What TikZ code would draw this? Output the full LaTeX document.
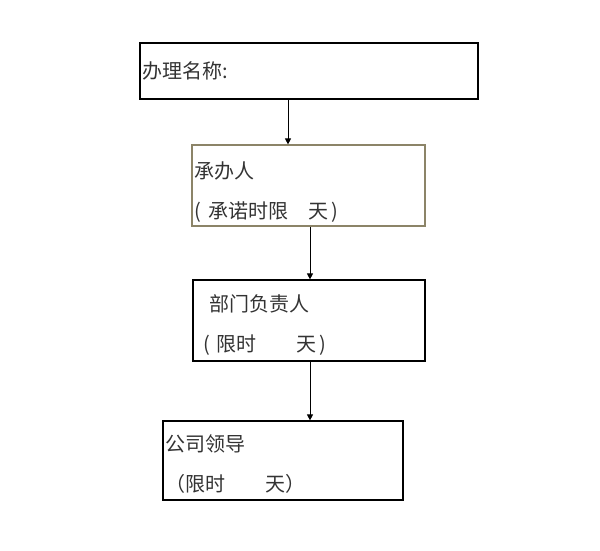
\documentclass[tikz,border=0pt]{standalone}
\usepackage{fontspec}
\newfontfamily\cjk{Noto Sans CJK SC}
\usepackage{xcolor}
\usetikzlibrary{positioning,arrows.meta}
\definecolor{boxolive}{RGB}{140,132,104}
\newcommand{\lowerby}[1]{\rule{0pt}{#1}}

\begin{document}
\begin{tikzpicture}[x=1pt,y=-1pt,
    stepbox/.style={draw,rectangle,line width=1.2pt,align=left,inner xsep=2pt,inner ysep=0pt,
        font=\cjk\fontsize{20}{40}\selectfont,text=black!80},
    flow/.style={-{Triangle[length=6pt,width=6pt]},line width=0.9pt}]
    \useasboundingbox (0,0) rectangle (600,550);

    % the four steps
    \node[stepbox,text width=334pt,minimum height=56pt] (title) at (309,71) {办理名称:};
    \node[stepbox,draw=boxolive,text width=229pt,minimum height=81pt] (handler) at (308.5,185.5)
        {\lowerby{30pt}承办人\\(\hspace{8pt}承诺时限　天\hspace{3pt})};
    \node[stepbox,text width=228pt,minimum height=81pt] (dept) at (309,320.5)
        {\lowerby{26pt}\hspace*{14pt}部门负责人\\\hspace*{8pt}(\hspace{7pt}限时　　天\hspace{3pt})};
    \node[stepbox,text width=236pt,minimum height=79pt] (boss) at (283,460.5)
        {\lowerby{24pt}公司领导\\（限时　　天）};

    \draw[flow] ([xshift=-21pt]title.south) -- ([xshift=-20.5pt]handler.north);
    \draw[flow] ([xshift=1.5pt]handler.south) -- ([xshift=1pt]dept.north);
    \draw[flow] ([xshift=1pt]dept.south) -- ([xshift=1pt]dept.south |- boss.north);
\end{tikzpicture}
\end{document}
